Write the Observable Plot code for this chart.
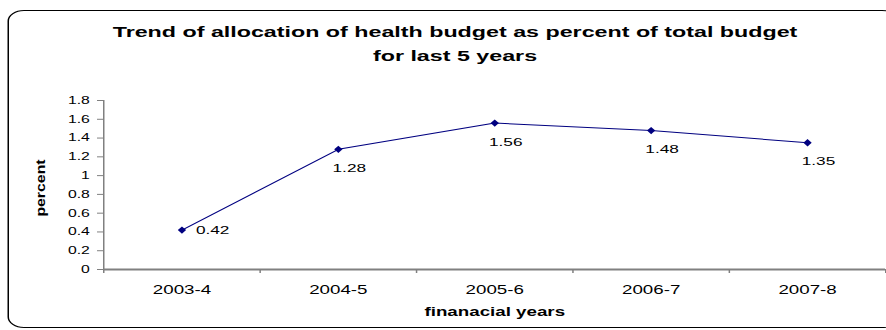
<!DOCTYPE html>
<html>
<head>
<meta charset="utf-8">
<script src="https://cdn.jsdelivr.net/npm/d3@7"></script>
<script src="https://cdn.jsdelivr.net/npm/@observablehq/plot@0.6"></script>
<style>
  html, body { margin: 0; padding: 0; background: #fff; }
  body { width: 886px; height: 330px; overflow: hidden; position: relative;
         font-family: "Liberation Sans", Arial, sans-serif; color: #000; }
  #wrap { position: absolute; left: 0; top: 0; width: 591px; height: 330px;
          transform: scaleX(1.5); transform-origin: 0 0; }
  #frame { position: absolute; left: 5.3px; top: 10px; width: 592px; height: 316px;
           border: 1.5px solid #000; border-radius: 11px; }
  #title { position: absolute; left: 0; top: 19.6px; width: 606.7px; text-align: center;
           font-weight: bold; font-size: 15.5px; line-height: 24px; }
  #chart { position: absolute; left: 0; top: 0; }
  #ylabel { position: absolute; left: 40.5px; top: 188px; font-weight: bold; font-size: 12px;
            line-height: 1; white-space: nowrap;
            transform: translate(-50%, -50%) rotate(-90deg) scaleX(1.32); }
</style>
</head>
<body>
<div id="wrap">
  <div id="frame"></div>
  <div id="title"></div>
  <div id="chart"></div>
</div>
<div id="ylabel"></div>
<script>
const titleLines = ["Trend of allocation of health budget as percent of total budget", "for last 5 years"];
const years = ["2003-4", "2004-5", "2005-6", "2006-7", "2007-8"];
const percent = [0.42, 1.28, 1.56, 1.48, 1.35];
const yTicks = [0, 0.2, 0.4, 0.6, 0.8, 1, 1.2, 1.4, 1.6, 1.8];
const xLabel = "finanacial years";
const yLabel = "percent";

document.getElementById("title").innerHTML = titleLines.join("<br>");
document.getElementById("ylabel").textContent = yLabel;

const data = years.map((year, i) => ({year, value: percent[i], pos: i + 0.5}));
const centers = years.map((_, i) => i + 0.5);
const bounds = d3.range(years.length + 1);

const diamond = {
  draw(ctx, size) {
    const s = Math.sqrt(size / Math.PI);
    const hx = s * 0.76;
    ctx.moveTo(0, -s); ctx.lineTo(hx, 0); ctx.lineTo(0, s); ctx.lineTo(-hx, 0); ctx.closePath();
  }
};

const navy = "#000080";
const grey = "#808080";

const chart = Plot.plot({
  width: 591,
  height: 330,
  marginLeft: 68.67,
  marginRight: 1,
  marginTop: 100,
  marginBottom: 61,
  style: {fontFamily: '"Liberation Sans", Arial, sans-serif', color: "#000", background: "transparent", overflow: "visible"},
  x: {domain: [0, years.length], axis: null},
  y: {domain: [0, 1.8], axis: null},
  marks: [
    Plot.ruleY([0], {stroke: grey, strokeWidth: 2}),
    Plot.ruleX([0], {stroke: grey, strokeWidth: 1}),
    Plot.axisY(yTicks, {tickSize: 4, tickPadding: 5.3, stroke: grey, fill: "#000",
      tickFormat: d => String(+d.toFixed(1)), fontSize: 10.5, label: null}),
    Plot.axisX(bounds, {tickSize: 4, stroke: grey, tickFormat: () => "", label: null}),
    Plot.axisX(centers, {tickSize: 0, tickPadding: 16, fill: "#000",
      tickFormat: d => years[Math.round(d - 0.5)], fontSize: 12.5, label: null}),
    Plot.lineY(data, {x: "pos", y: "value", stroke: navy, strokeWidth: 1}),
    Plot.dot(data, {x: "pos", y: "value", symbol: diamond, r: 3.65, fill: navy, stroke: null}),
    Plot.text(data, {filter: d => d.year === years[0], x: "pos", y: "value",
      text: d => d.value.toFixed(2), textAnchor: "start", dx: 9.3, fontSize: 11.5, fill: "#000"}),
    Plot.text(data, {filter: d => d.year !== years[0], x: "pos", y: "value",
      text: d => d.value.toFixed(2), dx: 7.3, dy: 19, fontSize: 11.5, fill: "#000"}),
    Plot.text([xLabel], {text: d => d, frameAnchor: "bottom", dy: 46, fontWeight: "bold", fontSize: 12.5, fill: "#000"})
  ]
});
document.getElementById("chart").appendChild(chart);
</script>
</body>
</html>
